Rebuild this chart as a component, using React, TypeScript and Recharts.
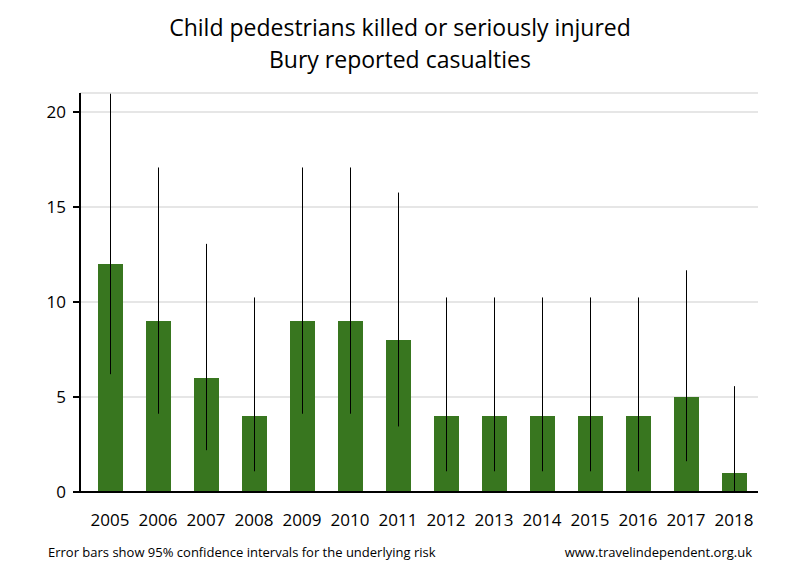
import React from 'react';
import { BarChart, Bar, XAxis, YAxis, CartesianGrid, ErrorBar } from 'recharts';

const years = ['2005', '2006', '2007', '2008', '2009', '2010', '2011', '2012', '2013', '2014', '2015', '2016', '2017', '2018'];
const casualties = [12, 9, 6, 4, 9, 9, 8, 4, 4, 4, 4, 4, 5, 1];
const ciLow = [6.2, 4.12, 2.2, 1.09, 4.12, 4.12, 3.45, 1.09, 1.09, 1.09, 1.09, 1.09, 1.62, 0.03];
const ciHigh = [20.96, 17.08, 13.06, 10.24, 17.08, 17.08, 15.76, 10.24, 10.24, 10.24, 10.24, 10.24, 11.67, 5.57];
const yTicks = [0, 5, 10, 15, 20];

const data = years.map((year, i) => ({
    year,
    value: casualties[i],
    err: [casualties[i] - ciLow[i], ciHigh[i] - casualties[i]],
}));

const font = "'Open Sans', 'Noto Sans', sans-serif";

export default function App() {
    return (
        <div style={{ position: 'absolute', left: 0, top: 0, width: 800, height: 580, background: '#fff', fontFamily: font }}>
            <div style={{ position: 'absolute', top: 11, left: 0, width: 800, textAlign: 'center', fontSize: 23, lineHeight: '32px', color: '#000' }}>
                Child pedestrians killed or seriously injured
                <br />
                Bury reported casualties
            </div>
            <BarChart
                width={800}
                height={580}
                data={data}
                margin={{ top: 93, right: 42, bottom: 58, left: 0 }}
            >
                <CartesianGrid vertical={false} stroke="#e6e6e6" strokeWidth={2} />
                <XAxis
                    dataKey="year"
                    height={30}
                    padding={{ left: 6, right: 0 }}
                    tickLine={false}
                    tickSize={0}
                    tickMargin={22}
                    axisLine={{ stroke: '#000', strokeWidth: 2 }}
                    tick={{ fill: '#000', fontSize: 17, fontFamily: font }}
                    interval={0}
                />
                <YAxis
                    width={80}
                    domain={[0, 21]}
                    ticks={yTicks}
                    allowDataOverflow
                    tickSize={7}
                    tickMargin={7}
                    tickLine={{ stroke: '#000', strokeWidth: 2 }}
                    axisLine={{ stroke: '#000', strokeWidth: 2 }}
                    tick={{ fill: '#000', fontSize: 17, fontFamily: font }}
                />
                <Bar dataKey="value" fill="#38761f" barSize={25} isAnimationActive={false}>
                    <ErrorBar dataKey="err" width={0} stroke="#000" strokeWidth={1} isAnimationActive={false} />
                </Bar>
            </BarChart>
            <div style={{ position: 'absolute', left: 48, top: 543, fontSize: 13, color: '#000' }}>
                Error bars show 95% confidence intervals for the underlying risk
            </div>
            <div style={{ position: 'absolute', right: 48, top: 543, fontSize: 13, color: '#000' }}>
                www.travelindependent.org.uk
            </div>
        </div>
    );
}
